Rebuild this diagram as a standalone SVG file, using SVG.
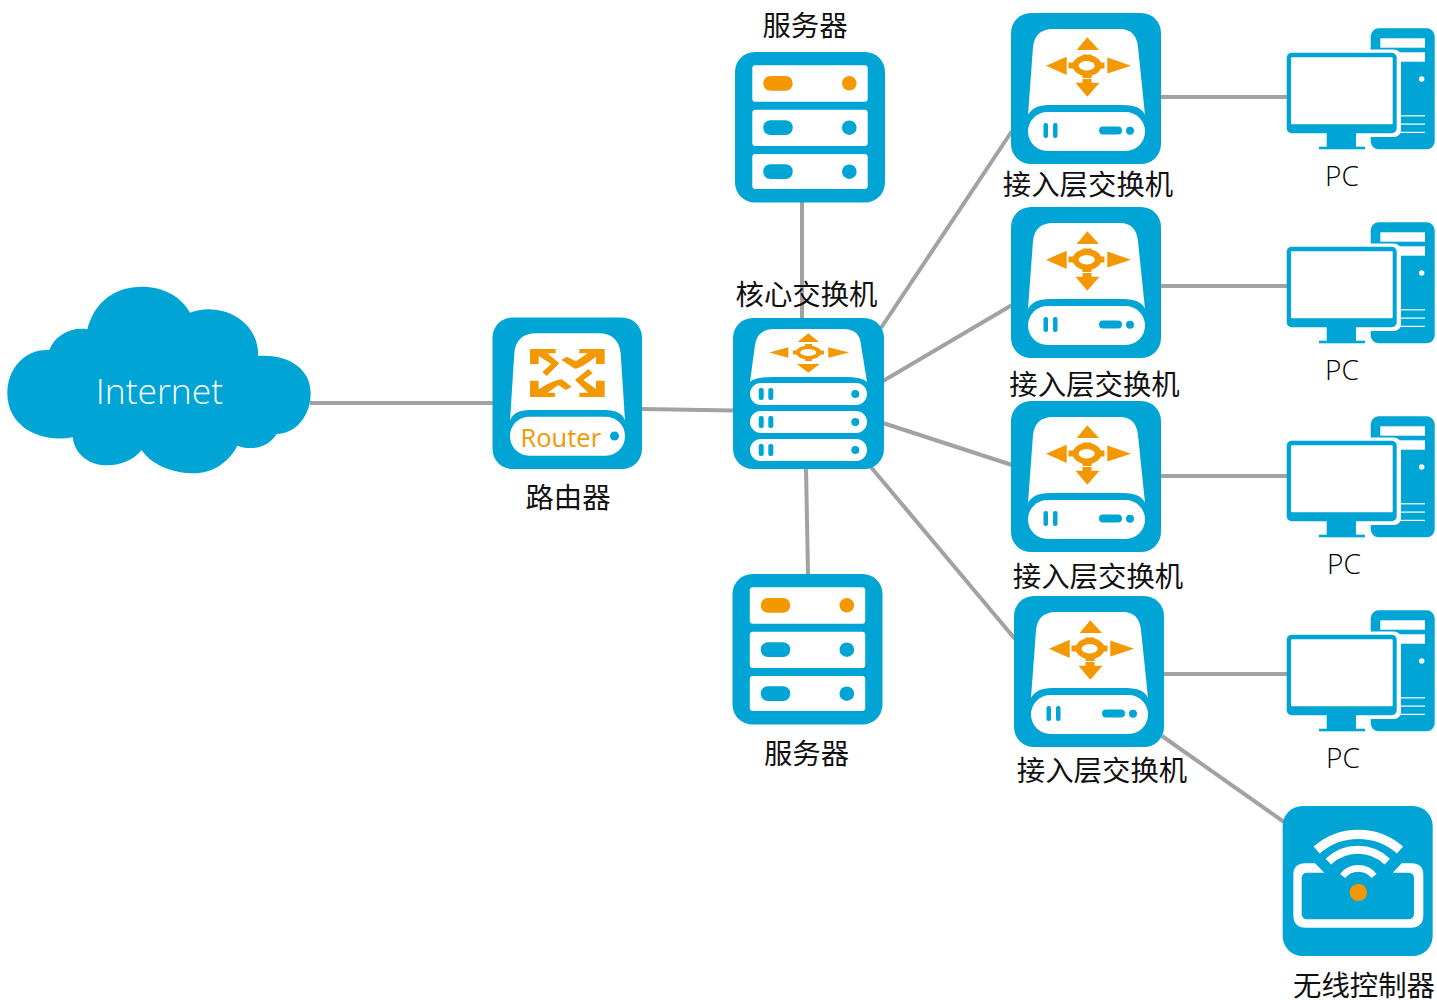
<svg xmlns="http://www.w3.org/2000/svg" width="1437" height="1000" viewBox="0 0 1437 1000">
<style>
.b{fill:#00a5d6}.w{fill:#fff}.o{fill:#f39800}
.l{font-family:"Noto Sans CJK SC","Liberation Sans",sans-serif;font-size:28.4px;fill:#111;text-anchor:middle}
.e{font-family:"Open Sans","Noto Sans",sans-serif;font-weight:300}
.r{font-family:"Open Sans","Noto Sans",sans-serif;font-weight:400}
.p{font-family:"Open Sans","Noto Sans",sans-serif;font-weight:300;font-size:28px;fill:#000;text-anchor:middle}
#links line{stroke:#a2a2a2;stroke-width:4}
</style>
<defs>
<g id="move"><path class="o" d="M76.300,24.300 L88,37 L65.700,37Z M35,52.700 L55.700,43.700 V62 Z M120,52.700 L96.300,44.500 V60.500 Z M76.300,83.700 L64.500,69.700 H71.500 V66 H80.500 V69.700 H88.500Z"/><path class="o" fill-rule="evenodd" d="M71.500,41.500 H80.500 V42.600 Q87,44 90,49.500 H93.500 V55.500 H90 Q87,61 80.500,62.700 V65 H71.500 V62.700 Q65,61 62,55.500 H57.500 V49.500 H62 Q65,44 71.500,42.600Z M75.700,48 A8,4.700 0 1 0 75.710,48Z"/></g>
<g id="access"><rect class="b" width="150" height="151" rx="20"/>
<path class="w" d="M17,102 L22,34 Q24,16 42,16 L109,16 Q125,16 127,34 L134,102 Q130,92 112,92 L38,92 Q22,92 17,102Z"/>
<rect class="w" x="17" y="99" width="117" height="39" rx="19.500"/>
<rect class="b" x="32.500" y="110" width="4.500" height="15" rx="2"/><rect class="b" x="42" y="110" width="4.500" height="15" rx="2"/>
<rect class="b" x="88" y="113.500" width="23" height="8" rx="4"/><circle class="b" cx="119" cy="117.700" r="4"/>
<use href="#move"/></g>
<g id="server"><rect class="b" width="150" height="150.500" rx="20"/>
<rect class="w" x="17.300" y="13.300" width="115.400" height="36.400" rx="3"/><rect class="w" x="17.300" y="57.700" width="115.400" height="36.400" rx="3"/><rect class="w" x="17.300" y="102" width="115.400" height="35" rx="3"/>
<rect class="b" x="28.300" y="68.300" width="29.400" height="14.700" rx="7"/><circle class="b" cx="114.300" cy="75.700" r="7.300"/>
<rect class="b" x="28.300" y="112.300" width="29.400" height="14.700" rx="7"/><circle class="b" cx="114.300" cy="119.700" r="7.300"/></g>
<g id="pc"><rect class="b" x="1370.700" y="28.300" width="64" height="121" rx="8"/>
<rect class="w" x="1380.300" y="38.300" width="44.700" height="9.400"/><rect class="w" x="1380.300" y="52.300" width="44.700" height="9.400"/><circle class="w" cx="1421.700" cy="79" r="2.700"/>
<rect class="w" x="1398" y="115.200" width="27" height="1.200"/><rect class="w" x="1398" y="123.500" width="27" height="1.200"/><rect class="w" x="1398" y="131.800" width="27" height="1.200"/>
<rect class="w" x="1340" y="49.500" width="61" height="87.500" rx="7"/>
<rect class="b" x="1286.700" y="52.700" width="110" height="80.600" rx="5"/><rect class="w" x="1291" y="57.300" width="101.700" height="67" rx="1"/>
<rect class="b" x="1326.700" y="133" width="29.300" height="14"/><rect class="b" x="1319" y="146.700" width="46" height="2.600"/></g>
</defs>
<g id="links">
<line x1="310" y1="403" x2="493" y2="403"/><line x1="642" y1="409" x2="734" y2="410.500"/>
<line x1="802" y1="202" x2="802" y2="319"/><line x1="806" y1="468" x2="808" y2="575"/>
<line x1="881" y1="328" x2="1012" y2="131"/><line x1="883" y1="381" x2="1012" y2="305"/>
<line x1="883" y1="423" x2="1012" y2="465"/><line x1="870" y1="466" x2="1015" y2="639"/>
<line x1="1160" y1="97" x2="1288" y2="97"/><line x1="1160" y1="286" x2="1288" y2="286"/>
<line x1="1160" y1="476" x2="1288" y2="476"/><line x1="1163" y1="674" x2="1288" y2="674"/>
<line x1="1162" y1="736" x2="1284" y2="822"/>
</g>
<g id="internet"><path class="b" transform="translate(0,280) scale(.33333)" d="M148,210 C165,165 215,140 262,148 C285,60 350,20 425,20 C490,20 545,50 570,98 C650,65 775,110 775,228 C870,222 932,270 932,340 C932,410 885,462 830,462 C800,510 745,510 712,497 C680,560 620,582 575,580 C510,578 450,550 425,510 C385,560 310,565 270,545 C240,530 222,505 218,472 C120,490 22,440 22,340 C22,260 80,205 148,210Z"/>
<text class="e" x="159.500" y="403.500" font-size="35.500" fill="#fff" text-anchor="middle">Internet</text></g>
<g id="router"><rect class="b" x="492.500" y="317.500" width="149.500" height="151.500" rx="20"/>
<g transform="translate(480,300) scale(.33333)"><path class="w" d="M90,362 L103,160 Q108,100 170,100 L355,100 Q415,100 422,160 L435,362 Q425,330 375,330 L150,330 Q100,330 90,362Z"/><rect class="w" x="90" y="350" width="345" height="117" rx="58"/></g>
<path class="o" transform="translate(520,340) scale(.33333)" d="M30,27 H107 V40 H82 L118,70 L80,108 L67,96 L94,72 L56,48 V72 H30Z M254,27 H178 V40 H203 L168,64 L140,50 L124,60 L165,86 Q180,86 228,50 V72 H254Z M30,171 H105 V158 H82 L115,135 L138,150 L155,140 L125,118 Q105,118 56,148 V122 H30Z M254,171 H178 V158 H205 L165,120 L205,87 L218,100 L190,120 L228,147 V122 H254Z"/>
<circle class="b" cx="614.500" cy="436" r="4.500"/>
<text class="r" x="520.500" y="447" font-size="25.500" fill="#f39800">Router</text></g>
<g id="core"><rect class="b" x="733" y="318" width="151" height="151" rx="20"/>
<path class="w" d="M750,382 L755,345 Q757,329 775,329 L843,329 Q860,329 861,345 L867,382 Q862,377 845,377 L772,377 Q755,377 750,382Z"/>
<rect class="w" x="750" y="383" width="117" height="22" rx="11"/><rect class="w" x="750" y="411" width="117" height="22" rx="11"/><rect class="w" x="750" y="439" width="117" height="22" rx="11"/>
<g class="b"><rect x="758.700" y="388" width="5" height="12" rx="2"/><rect x="768.300" y="388" width="5" height="12" rx="2"/><circle cx="855.300" cy="394" r="4"/>
<rect x="758.700" y="416" width="5" height="12" rx="2"/><rect x="768.300" y="416" width="5" height="12" rx="2"/><circle cx="855.300" cy="422" r="4"/>
<rect x="758.700" y="444" width="5" height="12" rx="2"/><rect x="768.300" y="444" width="5" height="12" rx="2"/><circle cx="855.300" cy="450" r="4"/></g>
<path class="o" d="M808.300,333.300 L819,342 H797.700Z M769.300,352.500 L788.300,347.300 V357.700Z M849.300,352.500 L828.300,347.300 V357.700Z M808.300,372.700 L797,364 H819.700Z"/>
<path class="o" fill-rule="evenodd" d="M805,344 H812 V345.800 Q818,347 821,350.500 H824 V354.500 H821 Q818,358 812,359.300 V361 H805 V359.300 Q799,358 796,354.500 H793 V350.500 H796 Q799,347 805,345.800Z M808.300,349 A8,3.500 0 1 0 808.310,349Z"/></g>
<g id="server1"><use href="#server" x="735" y="52"/><rect class="o" x="763.300" y="76" width="29.400" height="14.700" rx="7"/><circle class="o" cx="849.300" cy="83.300" r="7.300"/></g>
<g id="server2"><use href="#server" x="732.500" y="574"/><rect class="o" x="760.800" y="598" width="29.400" height="14.700" rx="7"/><circle class="o" cx="846.800" cy="605.300" r="7.300"/></g>
<g id="access1"><use href="#access" x="1011" y="13"/></g>
<g id="access2"><use href="#access" x="1011" y="207"/></g>
<g id="access3"><use href="#access" x="1011" y="401"/></g>
<g id="access4"><use href="#access" x="1014" y="596"/></g>
<g id="pc1"><use href="#pc"/></g>
<g id="pc2"><use href="#pc" y="194"/></g>
<g id="pc3"><use href="#pc" y="388"/></g>
<g id="pc4"><use href="#pc" y="582"/></g>
<g id="ap"><g transform="translate(1270,800) scale(.33333)"><rect class="b" x="38" y="18" width="450" height="450" rx="60"/>
<path class="w" d="M135,190 L105,190 Q70,190 70,225 L70,345 Q70,383 108,383 L422,383 Q460,383 460,345 L460,225 Q460,190 425,190 L395,190 L368,218 L415,218 Q432,218 432,235 L432,340 Q432,358 415,358 L112,358 Q95,358 95,340 L95,235 Q95,218 112,218 L163,218Z"/>
<g fill="none" stroke="#fff"><path stroke-width="28" d="M140,150 A190,190 0 0 1 390,150"/><path stroke-width="24" d="M175,185 A128,128 0 0 1 352,185"/><path stroke-width="20" d="M218,228 A60,60 0 0 1 312,228"/></g>
<circle class="o" cx="265" cy="277" r="26"/></g></g>
<g id="labels">
<text class="l" x="805" y="36">服务器</text>
<text class="l" x="806.500" y="305">核心交换机</text>
<text class="l" x="568" y="508">路由器</text>
<text class="l" x="806.500" y="764">服务器</text>
<text class="l" x="1088" y="195">接入层交换机</text>
<text class="l" x="1094.500" y="395">接入层交换机</text>
<text class="l" x="1098" y="587">接入层交换机</text>
<text class="l" x="1102" y="781">接入层交换机</text>
<text class="l" x="1364" y="996">无线控制器</text>
<text class="p" x="1342" y="186">PC</text>
<text class="p" x="1342" y="380">PC</text>
<text class="p" x="1344" y="574">PC</text>
<text class="p" x="1343" y="768">PC</text>
</g>
</svg>
